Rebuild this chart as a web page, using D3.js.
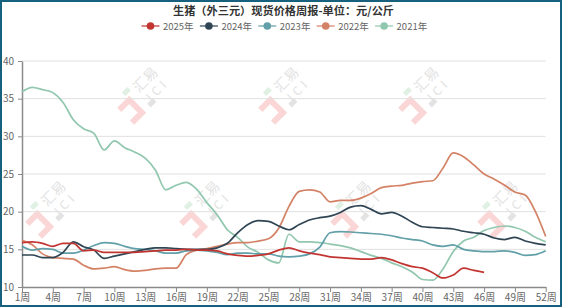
<!DOCTYPE html>
<html>
<head>
<meta charset="utf-8">
<script src="https://cdn.jsdelivr.net/npm/d3@7"></script>
<style>
  html, body { margin: 0; padding: 0; background: #fff; }
  svg { display: block; }
  text { font-family: "Noto Sans CJK SC", "Noto Sans", sans-serif; }
</style>
</head>
<body>
<div id="chart"></div>
<script>
// 数据
const weeks = d3.range(1, 53);
const tickWeeks = [1, 4, 7, 10, 13, 16, 19, 22, 25, 28, 31, 34, 37, 40, 43, 46, 49, 52];
const yTicks = [10, 15, 20, 25, 30, 35, 40];
const seriesNames = ["2025年", "2024年", "2023年", "2022年", "2021年"];
const seriesColors = ["#c23531", "#2f4554", "#61a0a8", "#d48265", "#91c7ae"];

const v2025 = [15.9, 16.0, 15.8, 15.4, 15.8, 15.8, 14.8, 14.9, 14.6, 14.6,
               14.6, 14.6, 14.7, 14.8, 14.9, 14.9, 15.0, 14.9, 14.9, 14.8,
               14.4, 14.2, 14.1, 14.2, 14.4, 14.9, 15.2, 14.8, 14.5, 14.3,
               14.0, 13.9, 13.8, 13.7, 13.7, 13.9, 13.6, 13.1, 12.7, 12.5,
               11.9, 11.2, 11.6, 12.5, 12.2, 11.95];
const v2024 = [14.25, 14.25, 13.9, 13.9, 14.6, 16.0, 15.35, 14.9, 13.8, 14.1,
               14.4, 14.7, 15.0, 15.2, 15.2, 15.1, 15.0, 15.0, 15.0, 15.2,
               15.8, 17.2, 18.3, 18.8, 18.7, 18.1, 17.6, 18.3, 18.9, 19.2,
               19.4, 19.9, 20.6, 20.8, 20.3, 19.7, 19.9, 19.4, 18.6, 18.0,
               17.9, 17.8, 17.7, 17.4, 17.2, 17.0, 16.5, 16.3, 16.6, 16.1,
               15.8, 15.6];
const v2023 = [15.4, 14.9, 15.1, 15.0, 14.5, 14.5, 14.9, 15.5, 15.9, 15.8,
               15.4, 15.1, 15.0, 14.8, 14.5, 14.5, 14.8, 14.9, 14.8, 14.6,
               14.3, 14.5, 14.5, 14.4, 14.4, 14.1, 14.0, 14.1, 14.4, 15.3,
               17.2, 17.35, 17.3, 17.2, 17.1, 17.0, 16.8, 16.5, 16.3, 16.1,
               15.6, 15.4, 15.6, 15.0, 14.8, 14.7, 14.7, 14.8, 14.6, 14.2,
               14.3, 14.8];
const v2022 = [16.2, 15.6, 14.4, 13.9, 13.8, 13.7, 12.9, 12.4, 12.5, 12.7,
               12.3, 12.1, 12.2, 12.4, 12.5, 12.5, 14.3, 14.9, 15.1, 15.4,
               15.7, 15.9, 15.9, 16.1, 16.4, 17.8, 20.7, 22.7, 22.9, 22.6,
               21.3, 21.5, 21.5, 21.8, 22.4, 23.2, 23.4, 23.5, 23.8, 24.0,
               24.1, 25.8, 27.8, 27.3, 26.2, 25.0, 24.3, 23.5, 22.6, 22.2,
               20.0, 16.7];
const v2021 = [35.9, 36.5, 36.2, 35.8, 34.5, 32.2, 31.0, 30.4, 28.2, 29.4,
               28.5, 27.9, 27.1, 25.5, 22.9, 23.5, 23.9, 23.0, 21.2, 19.6,
               17.6, 16.6, 15.3, 14.6, 13.6, 13.2, 17.0, 16.0, 16.0, 15.9,
               15.7, 15.5, 15.2, 14.7, 14.2, 13.8, 13.2, 12.7, 12.0, 11.0,
               10.9, 12.4, 14.7, 16.1, 16.6, 17.5, 17.9, 18.1, 17.9, 17.4,
               16.6, 16.0];
const seriesValues = [v2025, v2024, v2023, v2022, v2021];

function drawChart() {
    const width = 562, height = 307;
    const svg = d3.select("#chart").append("svg")
        .attr("width", width)
        .attr("height", height);

    const x = d3.scaleLinear().domain([1, 52]).range([22, 545.7]);
    const y = d3.scaleLinear().domain([10, 40]).range([287, 61]);

    // 水印
    const marks = [[149, 83], [290, 83], [430, 83],
                   [57, 197], [211, 197], [362, 197], [509, 197]];
    const wm = svg.append("g").attr("class", "watermark");
    marks.forEach(([mx, my]) => {
        const g = wm.append("g").attr("transform", `translate(${mx},${my}) rotate(-45)`);
        g.append("text").attr("x", 0).attr("y", 0)
            .attr("font-size", 14).attr("fill", "#e3e3e3").attr("text-anchor", "middle")
            .text("汇易");
        g.append("text").attr("x", 0).attr("y", 15)
            .attr("font-size", 12).attr("fill", "#e3e3e3").attr("text-anchor", "middle")
            .attr("letter-spacing", 4).text("JCI");
        g.append("path").attr("d", "M-40,-2 h14 v18 h-14")
            .attr("fill", "none").attr("stroke", "#fbd6d6").attr("stroke-width", 6);
        g.append("path").attr("d", "M-26,-10 h8")
            .attr("stroke", "#e0f1e4").attr("stroke-width", 5);
        g.append("path").attr("d", "M-16,16 h8")
            .attr("stroke", "#e3e3e3").attr("stroke-width", 5);
    });

    // 网格
    svg.append("g").selectAll("line")
        .data(yTicks.filter(d => d > 10))
        .enter().append("line")
        .attr("x1", x(1)).attr("x2", x(52))
        .attr("y1", d => y(d)).attr("y2", d => y(d))
        .attr("stroke", "#e0e0e0").attr("stroke-width", 1);

    // 坐标轴
    const yAxis = svg.append("g")
        .attr("transform", `translate(${x(1)},0)`)
        .call(d3.axisLeft(y).tickValues(yTicks).tickSize(4).tickSizeOuter(0));
    const xAxis = svg.append("g")
        .attr("transform", `translate(0,${y(10)})`)
        .call(d3.axisBottom(x).tickValues(tickWeeks).tickFormat(d => d + "周").tickSize(5).tickSizeOuter(0));
    [yAxis, xAxis].forEach(a => {
        a.select(".domain").attr("stroke", "#8a8a8a").attr("stroke-width", 1.5);
        a.selectAll(".tick line").attr("stroke", "#8a8a8a");
        a.selectAll("text").attr("fill", "#666").attr("font-size", 10);
    });
    yAxis.selectAll("text").attr("dx", -1);
    xAxis.selectAll("text").attr("dy", "0.6em");

    // 折线
    const line = d3.line()
        .x((d, i) => x(weeks[i]))
        .y(d => y(d))
        .curve(d3.curveMonotoneX);
    const order = [4, 3, 2, 1, 0];
    svg.append("g").selectAll("path")
        .data(order)
        .enter().append("path")
        .attr("d", i => line(seriesValues[i]))
        .attr("fill", "none")
        .attr("stroke", i => seriesColors[i])
        .attr("stroke-width", 1.7);

    // 标题
    svg.append("text")
        .attr("x", 283.5).attr("y", 15)
        .attr("text-anchor", "middle")
        .attr("font-size", 11).attr("font-weight", "bold").attr("fill", "#333")
        .attr("textLength", 221).attr("lengthAdjust", "spacingAndGlyphs")
        .text("生猪（外三元）现货价格周报-单位：元/公斤");

    // 图例
    const legend = svg.append("g").selectAll("g")
        .data(seriesNames)
        .enter().append("g")
        .attr("transform", (d, i) => `translate(${150.5 + i * 58.4},26)`);
    legend.append("line")
        .attr("x1", -9).attr("x2", 9)
        .attr("stroke", (d, i) => seriesColors[i]).attr("stroke-width", 2).attr("opacity", 0.6);
    legend.append("circle")
        .attr("r", 3.8).attr("fill", (d, i) => seriesColors[i]);
    legend.append("text")
        .attr("x", 12.5).attr("y", 3.5)
        .attr("font-size", 9.5).attr("fill", "#666")
        .text(d => d);

    // 外框
    svg.append("rect")
        .attr("x", 1).attr("y", 1).attr("width", width - 2).attr("height", height - 2)
        .attr("fill", "none").attr("stroke", "#17607e").attr("stroke-width", 2);
}

drawChart();
</script>
</body>
</html>
